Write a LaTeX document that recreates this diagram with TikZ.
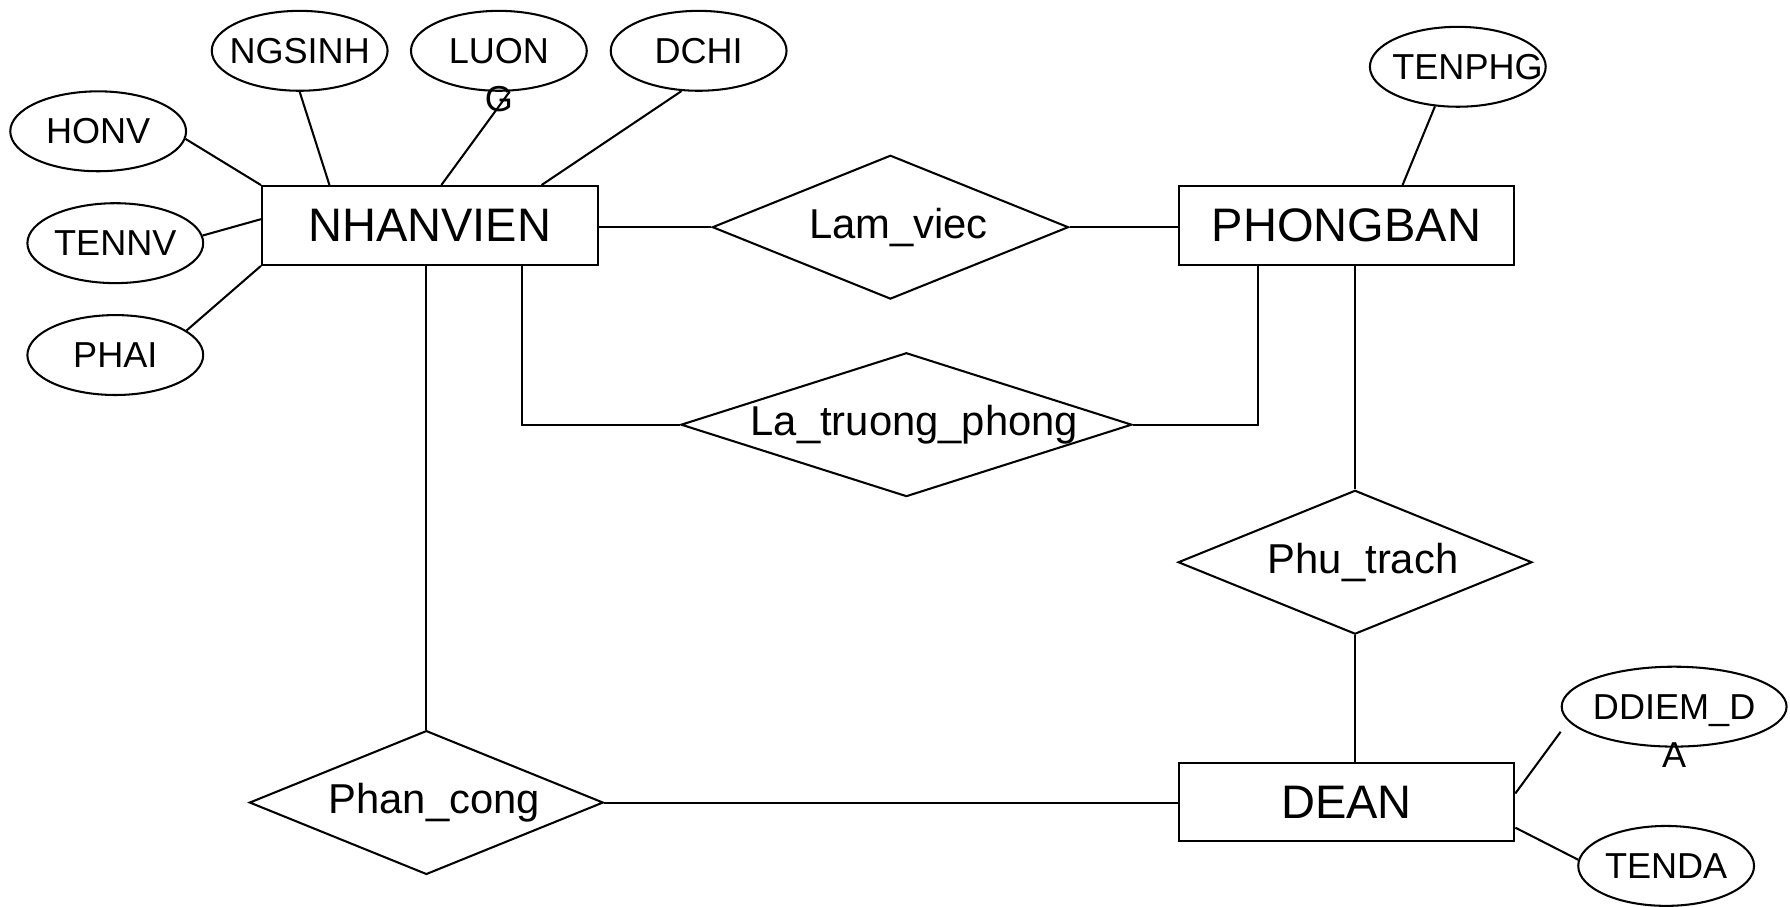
\documentclass[tikz,border=0pt]{standalone}
\usepackage{fontspec}
\setmainfont{Liberation Sans}
\usetikzlibrary{shapes.geometric,calc}
\newcommand\zb[1]{\makebox[0pt]{\hspace{7pt}#1}}
\newcommand\zn[1]{\makebox[0pt]{\raisebox{0pt}[\height][0pt]{#1}}}
\begin{document}
\begin{tikzpicture}[x=0.5pt,y=-0.5pt,line width=0.9pt,
  ent/.style={draw, rectangle, minimum width=147pt, minimum height=34.5pt, inner sep=0pt, font=\fontsize{20.6}{24}\selectfont},
  rel/.style={draw, diamond, minimum width=155pt, minimum height=63pt, inner sep=0pt, font=\fontsize{18.3}{22}\selectfont},
  attr/.style={draw, ellipse, minimum width=77pt, minimum height=35pt, inner sep=0pt, font=\fontsize{15.8}{19}\selectfont},
  attrtext/.style={inner sep=0pt, font=\fontsize{15.8}{19}\selectfont}]
\path[fill=white, use as bounding box] (0,0) rectangle (1568,794);

% entities
\node[ent] (nhanvien) at (376.5,197.5) {NHANVIEN};
\node[ent] (phongban) at (1179.5,197.5) {PHONGBAN};
\node[ent] (dean) at (1179.5,702.5) {DEAN};

% relationships
\node[rel, minimum width=156pt] (lamviec) at (780,199) {\zb{Lam\_viec}};
\node[rel, minimum width=197.5pt] (latp) at (794,372) {\zb{La\_truong\_phong}};
\node[rel] (phutrach) at (1187,492.5) {\zb{Phu\_trach}};
\node[rel] (phancong) at (373.5,703) {\zb{\raisebox{-1pt}{Phan\_cong}}};

% attributes
\node[attr] (honv) at (86,115) {\zn{HONV}};
\node[attr] (tennv) at (101,213) {\zn{TENNV}};
\node[attr] (phai) at (101,311) {\zn{PHAI}};
\node[attr] (ngsinh) at (262.5,44.5) {\zn{NGSINH}};
\node[attr] (luong) at (437,44.5) {\zn{LUON}};
\node[attrtext, anchor=base] (luongG) at ($(luong.center)+(0,53.5)$) {G};
\node[attr] (dchi) at (612,44.5) {\zn{DCHI}};
\node[attr] (tenphg) at (1277,58.5) {\zn{\hspace{8.5pt}TENPHG}};
\node[attr, minimum width=98.5pt] (ddiem) at (1466.5,619) {\zn{DDIEM\_D}};
\node[attrtext, anchor=base] (ddiemA) at ($(ddiem.center)+(0,53)$) {A};
\node[attr] (tenda) at (1459.5,758.5) {\zn{TENDA}};

% attribute links
\draw (honv.-5) -- (nhanvien.north west);
\draw (tennv.5) -- ($(nhanvien.west)+(0,-5.5)$);
\draw (phai.19) -- (nhanvien.south west);
\draw (ngsinh.south) -- ($(nhanvien.north west)+(60,0)$);
\draw (luong.-75) -- ($(nhanvien.north west)+(158,0)$);
\draw (dchi.-113) -- ($(nhanvien.north east)+(-50,0)$);
\draw (tenphg.-120) -- ($(phongban.north west)+(197,0)$);
\draw ($(ddiem.west)+(0,22)$) -- ($(dean.east)+(0,-7.5)$);
\draw (tenda.176) -- ($(dean.east)+(0,22.5)$);

% relationship links
\coordinate (k1) at (457,372);
\coordinate (k2) at (1102,372);
\draw (lamviec.west -| nhanvien.east) -- (lamviec.west);
\draw (lamviec.east) -- (lamviec.east -| phongban.west);
\draw (k1 |- nhanvien.south) -- (k1) -- (latp.west);
\draw (latp.east) -- (k2) -- (k2 |- phongban.south);
\draw (phancong.north) -- (phancong.north |- nhanvien.south);
\draw (phutrach.north) -- (phutrach.north |- phongban.south);
\draw (phutrach.south) -- (phutrach.south |- dean.north);
\draw (phancong.east) -- (phancong.east -| dean.west);
\end{tikzpicture}
\end{document}
